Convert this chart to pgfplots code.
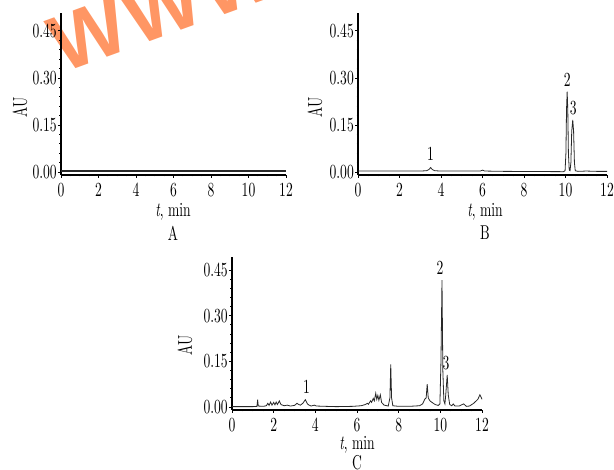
\documentclass[border=0pt]{standalone}
\usepackage{fontspec}
\setmainfont{lmroman10-regular}[Extension=.otf, ItalicFont=lmroman10-italic, BoldFont=lmroman10-bold, FakeStretch=0.68]
\newfontfamily\wmfont{Liberation Sans}
\usepackage{pgfplots}
\pgfplotsset{compat=1.18}
\definecolor{wmorange}{RGB}{255,150,100}
\definecolor{trace}{RGB}{40,40,40}
\newcommand{\lab}{\fontsize{20}{22}\selectfont}
\pgfplotsset{
  chrom/.style={
    scale only axis,
    anchor=south west,
    axis x line*=bottom,
    axis y line*=left,
    axis line style={black, line width=1.1pt},
    xmin=0, xmax=12,
    xtick={0,2,4,6,8,10,12},
    xticklabels={0,2,4,6,8,10,12},
    minor x tick num=3,
    ytick={0,0.15,0.30,0.45},
    yticklabels={0.00,0.15,0.30,0.45},
    minor y tick num=4,
    tick align=outside,
    major tick length=3pt,
    minor tick length=1.5pt,
    tick style={black, line width=0.8pt},
    ticklabel style={font=\lab},
    xticklabel style={anchor=north, inner sep=0pt, yshift=-5pt},
    yticklabel style={anchor=east, inner sep=0pt, xshift=-1pt},
    clip=false,
  },
  trc/.style={trace, line width=0.8pt, no marks},
}
\begin{document}
\begin{tikzpicture}[x=1pt,y=1pt]
\path[use as bounding box] (0,0) rectangle (614,470);
% watermark
\node[anchor=base west, rotate=20, text=wmorange, inner sep=0pt] at (62,396) {\wmfont\bfseries\fontsize{80}{82}\selectfont W\hspace{4pt}W\hspace{4pt}W\hspace{6pt}.W};

% Panel A
\begin{axis}[chrom, at={(61pt,295pt)}, width=225pt, height=162pt, ymin=-0.0096, ymax=0.507]
\addplot[trc, line width=1.2pt] coordinates {(0,0.003) (2,0.003) (4,0.003) (6,0.003) (8,0.003) (10,0.003) (12,0.003)};
\end{axis}
\node[rotate=90, font=\lab] at (20,363) {AU};
\node[font=\lab] at (173,258) {\textit{t}, min};
\node[font=\lab] at (173,237) {A};

% Panel B
\begin{axis}[chrom, at={(358pt,295pt)}, width=249pt, height=162pt, ymin=-0.0096, ymax=0.507]
\addplot[trc] coordinates {
(0,0.003) (3.0,0.003) (3.3,0.004) (3.42,0.008) (3.5,0.014) (3.58,0.008) (3.7,0.004) (4,0.003)
(5.9,0.003) (6.0,0.006) (6.1,0.003) (7,0.002) (9.9,0.001) (9.98,0.004) (10.02,0.06)
(10.05,0.2) (10.08,0.256) (10.11,0.2) (10.14,0.06) (10.18,0.006) (10.22,0.004)
(10.26,0.03) (10.3,0.13) (10.35,0.166) (10.39,0.13) (10.43,0.03) (10.47,0.004)
(10.6,0.002) (11,0.003) (11.5,0.002) (12,0.002)};
\node[font=\lab, anchor=south] at (axis cs:3.5,0.025) {1};
\node[font=\lab, anchor=south] at (axis cs:10.08,0.262) {2};
\node[font=\lab, anchor=south] at (axis cs:10.38,0.172) {3};
\end{axis}
\node[rotate=90, font=\lab] at (315,363) {AU};
\node[font=\lab] at (485,258) {\textit{t}, min};
\node[font=\lab] at (485,237) {B};

% Panel C
\begin{axis}[chrom, at={(232pt,60pt)}, width=250pt, height=153pt, ymin=-0.01, ymax=0.493]
\addplot[trc] coordinates {
(0,0.001) (1.0,0.001) (1.2,0.002) (1.23,0.024) (1.26,0.003) (1.5,0.002) (1.65,0.004)
(1.72,0.012) (1.78,0.005) (1.85,0.016) (1.92,0.006) (2.0,0.015) (2.06,0.007) (2.12,0.016)
(2.18,0.008) (2.27,0.02) (2.35,0.008) (2.5,0.004) (2.65,0.006) (2.8,0.003) (3.0,0.005)
(3.12,0.012) (3.2,0.008) (3.28,0.006) (3.4,0.012) (3.52,0.024) (3.62,0.01) (3.7,0.006)
(3.8,0.003) (3.95,0.006) (4.05,0.003) (4.5,0.002) (5,0.001) (5.8,0.002) (6.2,0.004)
(6.4,0.008) (6.5,0.012) (6.55,0.009) (6.65,0.02) (6.7,0.015) (6.78,0.028) (6.83,0.02)
(6.9,0.045) (6.95,0.025) (7.0,0.038) (7.05,0.022) (7.12,0.04) (7.18,0.015) (7.3,0.006)
(7.5,0.003) (7.58,0.03) (7.62,0.14) (7.66,0.03) (7.72,0.004) (8.0,0.002) (8.5,0.002)
(9.0,0.004) (9.15,0.01) (9.25,0.025) (9.32,0.03) (9.37,0.075) (9.42,0.03) (9.5,0.02)
(9.6,0.015) (9.75,0.008) (9.9,0.005) (9.98,0.01) (10.03,0.15) (10.08,0.417) (10.12,0.12)
(10.17,0.02) (10.22,0.01) (10.26,0.04) (10.33,0.105) (10.38,0.04) (10.45,0.008)
(10.55,0.004) (10.62,0.01) (10.7,0.003) (10.9,0.003) (11.05,0.008) (11.12,0.01)
(11.25,0.002) (11.4,0.003) (11.6,0.012) (11.8,0.025) (11.9,0.04) (11.97,0.03) (12,0.025)};
\node[font=\lab] at (axis cs:3.58,0.066) {1};
\node[font=\lab] at (axis cs:9.98,0.457) {2};
\node[font=\lab] at (axis cs:10.27,0.145) {3};
\end{axis}
\node[rotate=90, font=\lab] at (185,125) {AU};
\node[font=\lab] at (357,25) {\textit{t}, min};
\node[font=\lab, anchor=base] at (357,0) {C};
\end{tikzpicture}
\end{document}
